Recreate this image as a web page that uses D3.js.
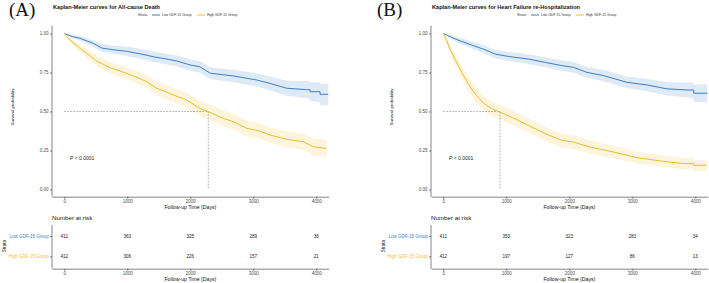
<!DOCTYPE html>
<html lang="en">
<head>
<meta charset="UTF-8">
<title>Kaplan-Meier curves</title>
<script src="https://d3js.org/d3.v7.min.js"></script>
<style>
  body { margin: 0; background: #fff; }
  svg { display: block; font-family: "Liberation Sans", Arial, sans-serif; }
  .axis path, .axis line { stroke: #333; stroke-width: 0.6; }
</style>
</head>
<body>
<svg width="709" height="283"></svg>
<script>
// ---- data ----
const ticksX = [0, 1000, 2000, 3000, 4000];
const ticksY = [0, 0.25, 0.5, 0.75, 1];
const groups = ["Low GDF-15 Group", "High GDF-15 Group"];

// Panel A: all-cause death
const aLowT  = [0, 130, 250, 460, 600, 800, 990, 1250, 1413, 1600, 1784, 2000, 2150, 2320, 2683, 3054, 3265, 3530, 3848, 3900, 3900, 4060, 4060, 4190];
const aLowS  = [1.00, 0.980, 0.969, 0.937, 0.906, 0.895, 0.886, 0.866, 0.851, 0.838, 0.824, 0.798, 0.787, 0.745, 0.728, 0.702, 0.680, 0.649, 0.640, 0.640, 0.627, 0.627, 0.610, 0.610];
const aLowLo = [1.00, 0.970, 0.954, 0.917, 0.881, 0.868, 0.856, 0.834, 0.818, 0.804, 0.789, 0.762, 0.750, 0.707, 0.688, 0.660, 0.636, 0.601, 0.585, 0.580, 0.567, 0.560, 0.540, 0.540];
const aLowHi = [1.00, 0.990, 0.984, 0.957, 0.931, 0.922, 0.916, 0.898, 0.884, 0.872, 0.859, 0.834, 0.824, 0.783, 0.768, 0.744, 0.724, 0.697, 0.695, 0.695, 0.687, 0.687, 0.680, 0.680];

const aHighT  = [0, 90, 250, 400, 514, 725, 990, 1150, 1308, 1467, 1600, 1730, 1943, 2154, 2286, 2524, 2683, 2895, 3106, 3265, 3530, 3794, 3953, 4165];
const aHighS  = [1.00, 0.958, 0.905, 0.860, 0.824, 0.781, 0.745, 0.720, 0.691, 0.649, 0.628, 0.606, 0.574, 0.520, 0.499, 0.456, 0.435, 0.392, 0.375, 0.349, 0.322, 0.306, 0.274, 0.263];
const aHighLo = [1.00, 0.943, 0.880, 0.830, 0.791, 0.745, 0.707, 0.680, 0.649, 0.605, 0.583, 0.560, 0.526, 0.471, 0.449, 0.406, 0.385, 0.342, 0.325, 0.299, 0.271, 0.254, 0.220, 0.208];
const aHighHi = [1.00, 0.973, 0.930, 0.890, 0.857, 0.817, 0.783, 0.760, 0.733, 0.693, 0.673, 0.652, 0.622, 0.569, 0.549, 0.506, 0.485, 0.442, 0.425, 0.399, 0.373, 0.358, 0.328, 0.318];

// Panel B: heart failure re-hospitalization
const bLowT  = [0, 133, 265, 451, 663, 822, 1033, 1351, 1617, 1882, 2067, 2280, 2544, 2916, 3234, 3552, 3870, 3975, 3975, 4188];
const bLowS  = [1.00, 0.975, 0.953, 0.926, 0.896, 0.868, 0.853, 0.836, 0.815, 0.794, 0.783, 0.751, 0.730, 0.687, 0.670, 0.645, 0.638, 0.638, 0.617, 0.617];
const bLowLo = [1.00, 0.963, 0.935, 0.904, 0.870, 0.840, 0.823, 0.805, 0.783, 0.761, 0.749, 0.716, 0.694, 0.649, 0.630, 0.602, 0.590, 0.585, 0.562, 0.559];
const bLowHi = [1.00, 0.987, 0.971, 0.948, 0.922, 0.896, 0.883, 0.867, 0.847, 0.827, 0.817, 0.786, 0.766, 0.725, 0.710, 0.688, 0.686, 0.686, 0.672, 0.675];

const bHighT  = [0, 50, 106, 186, 292, 398, 504, 636, 769, 901, 1140, 1405, 1617, 1882, 2067, 2332, 2703, 3075, 3445, 3816, 3975, 3975, 4180];
const bHighS  = [1.00, 0.960, 0.900, 0.836, 0.751, 0.677, 0.613, 0.555, 0.517, 0.496, 0.453, 0.400, 0.358, 0.315, 0.304, 0.272, 0.240, 0.204, 0.183, 0.166, 0.166, 0.155, 0.155];
const bHighLo = [1.00, 0.940, 0.870, 0.801, 0.711, 0.632, 0.566, 0.507, 0.469, 0.448, 0.406, 0.354, 0.313, 0.271, 0.261, 0.230, 0.200, 0.166, 0.146, 0.130, 0.128, 0.119, 0.119];
const bHighHi = [1.00, 0.980, 0.930, 0.871, 0.791, 0.722, 0.660, 0.603, 0.565, 0.544, 0.500, 0.446, 0.403, 0.359, 0.347, 0.314, 0.280, 0.242, 0.220, 0.202, 0.202, 0.191, 0.191];

const aMedian = 2286, bMedian = 901;
const aRiskLow = [411, 363, 325, 289, 36], aRiskHigh = [412, 306, 226, 157, 21];
const bRiskLow = [411, 353, 323, 283, 34], bRiskHigh = [412, 197, 127, 86, 13];

const colors = ["#3a80c6", "#edbf2c"];

const svg = d3.select("svg");

function zip(t, s, lo, hi) {
  return t.map((d, i) => ({ t: d, s: s[i], lo: lo[i], hi: hi[i] }));
}

function drawPanel(cfg) {
  const g = svg.append("g").attr("transform", `translate(${cfg.dx},0)`);
  const x = d3.scaleLinear().domain([-195, 4197]).range([52, 328.7]);
  const y = d3.scaleLinear().domain([0, 1]).range([189.5, 33.5]);
  const yTop = 25.7, yBot = 196.7;

  // confidence bands
  cfg.series.forEach((ser, i) => {
    g.append("path")
      .datum(ser)
      .attr("fill", colors[i])
      .attr("fill-opacity", 0.17)
      .attr("d", d3.area().x(d => x(d.t)).y0(d => y(d.lo)).y1(d => y(d.hi)));
  });

  // median lines
  g.append("path")
    .attr("d", `M${x(0)},${y(0.5)}H${x(cfg.median)}V${y(0)}`)
    .attr("fill", "none").attr("stroke", "#777")
    .attr("stroke-width", 0.6).attr("stroke-dasharray", "1.6,1.4");

  // survival curves
  cfg.series.forEach((ser, i) => {
    g.append("path")
      .datum(ser)
      .attr("fill", "none")
      .attr("stroke", colors[i])
      .attr("stroke-width", 1)
      .attr("d", d3.line().x(d => x(d.t)).y(d => y(d.s)));
  });

  // axes
  const xAxis = g.append("g").attr("class", "axis")
    .attr("transform", `translate(0,${yBot})`)
    .call(d3.axisBottom(x).tickValues(ticksX).tickFormat(d3.format("d")).tickSize(2).tickSizeOuter(0).tickPadding(1.5));
  xAxis.selectAll("text").attr("font-size", 4.5).attr("fill", "#4d4d4d");

  const yAxis = g.append("g").attr("class", "axis")
    .attr("transform", "translate(52,0)")
    .call(d3.axisLeft(y).tickValues(ticksY).tickFormat(d3.format(".2f")).tickSize(2).tickPadding(1.5));
  yAxis.select(".domain").attr("d", `M0,${yTop}V${yBot}`);
  yAxis.selectAll("text").attr("font-size", 4.5).attr("fill", "#4d4d4d");

  g.append("text").attr("x", 190.4).attr("y", 209)
    .attr("text-anchor", "middle").attr("font-size", 5.2).attr("fill", "#111")
    .text("Follow-up Time (Days)");

  g.append("text")
    .attr("transform", "translate(13.5,107) rotate(-90)")
    .attr("text-anchor", "middle").attr("font-size", 4.4).attr("fill", "#111")
    .text("Survival probability");

  // p value
  const pt = g.append("text").attr("x", 70).attr("y", 159.5)
    .attr("font-size", 5).attr("fill", "#222");
  pt.append("tspan").attr("font-style", "italic").text("P");
  pt.append("tspan").text(" < 0.0001");

  // title + legend
  g.append("text").attr("x", 53).attr("y", 8.5)
    .attr("font-size", 5.6).attr("font-weight", "bold").attr("fill", "#111")
    .text(cfg.title);

  const leg = g.append("g").attr("font-size", 3.4).attr("fill", "#333");
  leg.append("text").attr("x", 138).attr("y", 16.2).text("Strata");
  const legX = [[152, 162], [197, 207]];
  groups.forEach((name, i) => {
    leg.append("line")
      .attr("x1", legX[i][0]).attr("x2", legX[i][0] + 8)
      .attr("y1", 15).attr("y2", 15)
      .attr("stroke", colors[i]).attr("stroke-width", 1);
    leg.append("text").attr("x", legX[i][1]).attr("y", 16.2).text(name);
  });

  // risk table
  g.append("text").attr("x", 52).attr("y", 220)
    .attr("font-size", 6.2).attr("fill", "#111").text("Number at risk");

  const rowY = d3.scalePoint().domain(groups).range([236, 256.3]);
  cfg.risk.forEach((row, i) => {
    g.selectAll(null)
      .data(row)
      .join("text")
      .attr("x", (d, j) => x(ticksX[j]))
      .attr("y", rowY(groups[i]))
      .attr("dy", "0.35em")
      .attr("text-anchor", "middle")
      .attr("font-size", 4.6).attr("fill", "#222")
      .text(d => d);
  });

  const rAxis = g.append("g").attr("class", "axis")
    .attr("transform", "translate(52,0)")
    .call(d3.axisLeft(rowY).tickSize(2).tickPadding(1.2));
  rAxis.select(".domain").attr("d", "M0,225V268.7");
  rAxis.selectAll("text").attr("font-size", 4.5)
    .attr("fill", (d, i) => colors[i]);

  const rxAxis = g.append("g").attr("class", "axis")
    .attr("transform", "translate(0,268.7)")
    .call(d3.axisBottom(x).tickValues(ticksX).tickFormat(d3.format("d")).tickSize(2).tickSizeOuter(0).tickPadding(1.5));
  rxAxis.selectAll("text").attr("font-size", 4.5).attr("fill", "#4d4d4d");

  g.append("text").attr("x", 190.4).attr("y", 281)
    .attr("text-anchor", "middle").attr("font-size", 5.2).attr("fill", "#111")
    .text("Follow-up Time (Days)");

  g.append("text")
    .attr("transform", "translate(5.5,246) rotate(-90)")
    .attr("text-anchor", "middle").attr("font-size", 4.6).attr("fill", "#111")
    .text("Strata");
}

drawPanel({
  dx: 0, title: "Kaplan-Meier curves for All-cause Death", median: aMedian,
  series: [zip(aLowT, aLowS, aLowLo, aLowHi), zip(aHighT, aHighS, aHighLo, aHighHi)],
  risk: [aRiskLow, aRiskHigh]
});
drawPanel({
  dx: 379, title: "Kaplan-Meier curves for Heart Failure re-Hospitalization", median: bMedian,
  series: [zip(bLowT, bLowS, bLowLo, bLowHi), zip(bHighT, bHighS, bHighLo, bHighHi)],
  risk: [bRiskLow, bRiskHigh]
});

// panel letters
svg.append("text").attr("x", 9).attr("y", 15.5)
  .attr("font-family", "'Liberation Serif', 'Times New Roman', serif")
  .attr("font-size", 19).attr("fill", "#111").text("(A)");
svg.append("text").attr("x", 377).attr("y", 15.5)
  .attr("font-family", "'Liberation Serif', 'Times New Roman', serif")
  .attr("font-size", 19).attr("fill", "#111").text("(B)");
</script>
</body>
</html>
